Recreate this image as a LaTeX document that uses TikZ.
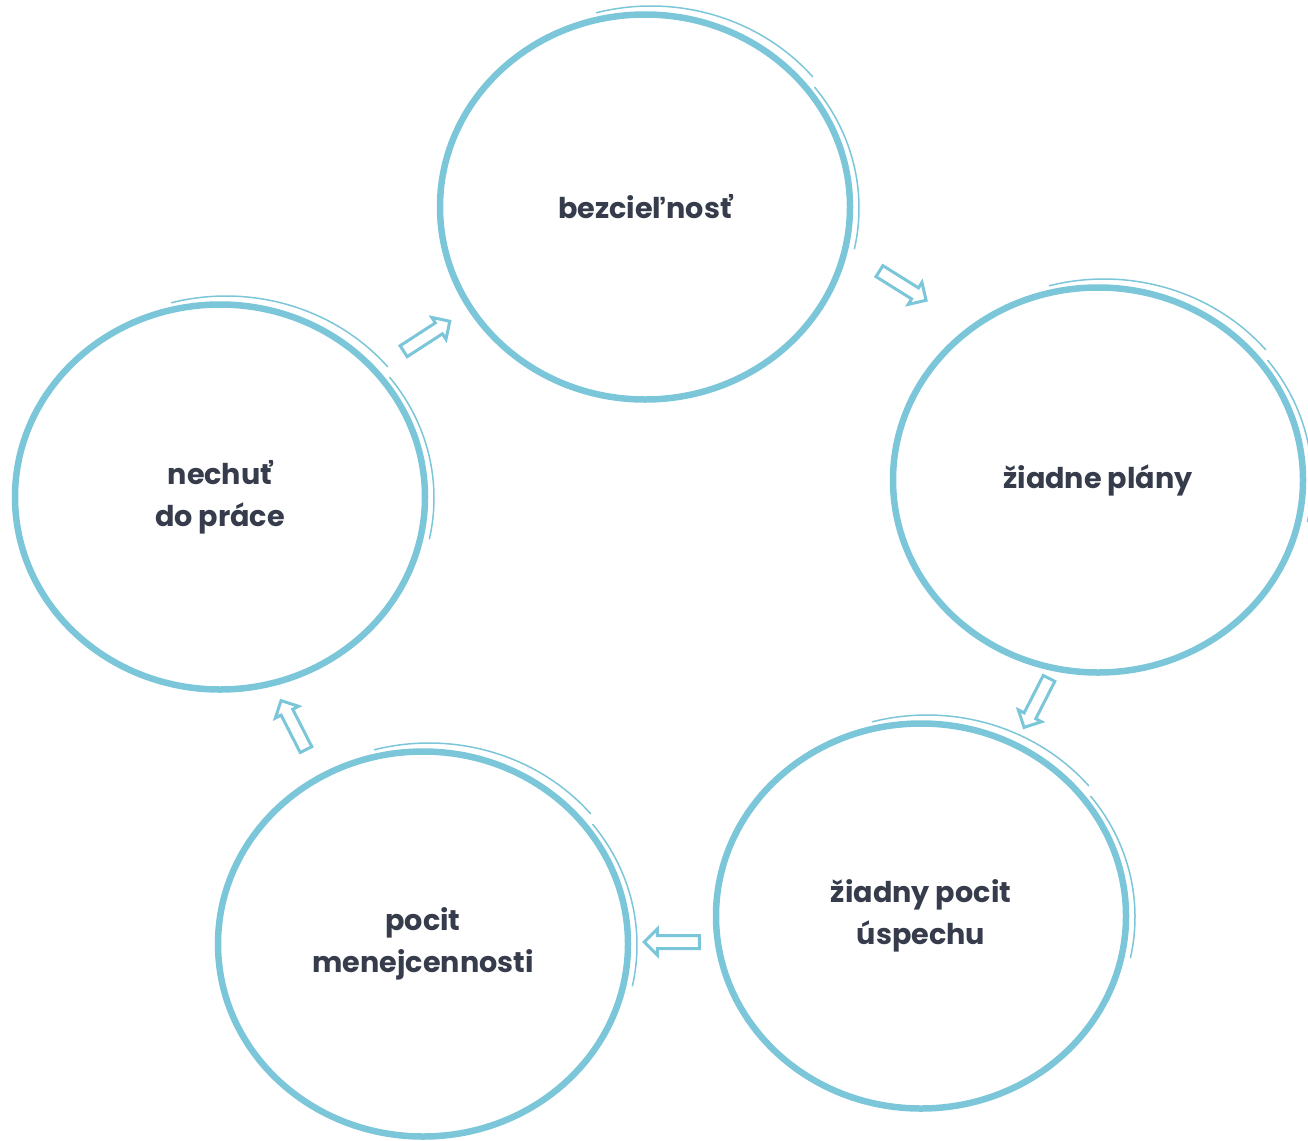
\documentclass[tikz,border=0pt]{standalone}
\usepackage{fontspec}
\setmainfont{Poppins}
\usetikzlibrary{shapes.geometric,shapes.arrows}
\definecolor{ringblue}{HTML}{7CC6D9}
\definecolor{inkgrey}{HTML}{363C4B}

\begin{document}
\begin{tikzpicture}[x=0.2mm,y=-0.2mm,
ring/.style={ellipse,draw=ringblue,line width=1.3mm,
minimum width=82mm,minimum height=77mm,align=center,
font=\fontsize{16.3}{24}\selectfont\bfseries,text=inkgrey},
sketch/.style={draw=ringblue,line width=0.3mm,line cap=round},
flow/.style={single arrow,draw=ringblue,line width=0.6mm,
minimum height=11mm,inner sep=1mm,single arrow head extend=1.3mm}
]
\useasboundingbox (0,0) rectangle (1308,1140);

\node[ring] (bez) at (645,207)  {bezcieľnosť};
\node[ring] (pla) at (1098,480) {žiadne plány};
\node[ring] (usp) at (921,916)  {žiadny pocit\\úspechu};
\node[ring] (men) at (423,944)  {pocit\\menejcennosti};
\node[ring] (nec) at (220,497)  {nechuť\\do práce};

% loose brush strokes, upper right of each ring
\foreach \c in {bez,pla,usp,men,nec}{
  \draw[sketch] ([shift={(6,-3)}]\c.center) ++(-105:211 and 198)
    arc[start angle=-105,end angle=-40,x radius=211,y radius=198];
  \draw[sketch] ([shift={(5,1)}]\c.center) ++(-38:209 and 196)
    arc[start angle=-38,end angle=12,x radius=209,y radius=196];
}

\node[flow,rotate=-32]  (a1) at (900,284) {};
\node[flow,rotate=-117] (a2) at (1038,700) {};
\node[flow,rotate=180]  (a3) at (675,942) {};
\node[flow,rotate=117]  (a4) at (295,728) {};
\node[flow,rotate=33]   (a5) at (424,338) {};
\end{tikzpicture}
\end{document}
